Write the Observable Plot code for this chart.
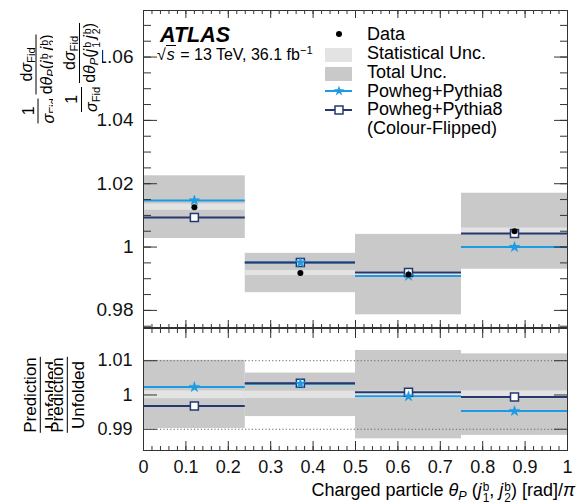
<!DOCTYPE html>
<html><head><meta charset="utf-8">
<script src="https://cdn.jsdelivr.net/npm/d3@7"></script>
<script src="https://cdn.jsdelivr.net/npm/@observablehq/plot@0.6"></script>
<style>
body{margin:0;background:#fff;font-family:"Liberation Sans",Arial,sans-serif;color:#000;}
#chart{position:relative;width:585px;height:504px;overflow:hidden;background:#fff;}
#top,#bottom{position:absolute;left:0;}
#top{top:0px}
#bottom{top:327px}
.abs{position:absolute;white-space:nowrap;line-height:1;}
.ylab{position:absolute;white-space:nowrap;line-height:1;font-size:15px;transform-origin:center center;}
.frac{display:inline-flex;flex-direction:column;align-items:center;vertical-align:middle;margin:0 2px;}
.frac .bar{align-self:stretch;border-top:1px solid #000;margin:1px 0 2px 0;}
.sub{font-size:0.7em;vertical-align:-0.3em;line-height:0;}
.sup{font-size:0.7em;vertical-align:0.55em;line-height:0;}
.ss{display:inline-flex;flex-direction:column;font-size:0.66em;line-height:0.92;vertical-align:0.42em;margin-left:1px;}
i{font-style:italic;}
</style>
</head><body>
<div id="chart">
  <div id="top"></div>
  <div id="bottom"></div>
</div>
<script>
// ---------- data ----------
const binLo      = [0.00, 0.24, 0.50, 0.75];
const binHi      = [0.24, 0.50, 0.75, 1.00];
const binCenter  = [0.12, 0.37, 0.625, 0.875];
// upper panel: normalised cross-section
const dataVal    = [1.0126, 0.9918, 0.9913, 1.0050];
const statErr    = [0.0010, 0.0008, 0.0009, 0.0010];
const totErr     = [0.0099, 0.0062, 0.0127, 0.0120];
const powheg     = [1.0147, 0.9951, 0.9909, 1.0000];
const powhegCF   = [1.0093, 0.9951, 0.9920, 1.0043];
// lower panel: prediction / unfolded
const ratioStatLo   = [0.9989, 0.9990, 0.9990, 0.9989];
const ratioStatHi   = [1.0012, 1.0011, 1.0011, 1.0012];
const ratioTotLo    = [0.9902, 0.9937, 0.9872, 0.9882];
const ratioTotHi    = [1.0101, 1.0064, 1.0130, 1.0120];
const ratioPowheg   = [1.0023, 1.0033, 0.9996, 0.9953];
const ratioPowhegCF = [0.9968, 1.0034, 1.0008, 0.9994];
// ticks
const yTicksTop    = [0.98, 1.00, 1.02, 1.04, 1.06];
const yTicksBottom = [0.99, 1.00, 1.01];
const xTicks       = [0, 0.1, 0.2, 0.3, 0.4, 0.5, 0.6, 0.7, 0.8, 0.9, 1];
const legendLabels = ["Data", "Statistical Unc.", "Total Unc.", "Powheg+Pythia8", "Powheg+Pythia8", "(Colour-Flipped)"];

// ---------- styling ----------
const navy = "#26386e", azure = "#1b9be3", totGrey = "#c9c9c9", statGrey = "#e3e3e3", axisCol = "#333";
const FONT = "Liberation Sans, Arial, sans-serif";

const rows = binLo.map((lo, i) => ({
  lo, hi: binHi[i], c: binCenter[i],
  data: dataVal[i], stat: statErr[i], tot: totErr[i],
  pw: powheg[i], cf: powhegCF[i],
  rsl: ratioStatLo[i], rsh: ratioStatHi[i], rtl: ratioTotLo[i], rth: ratioTotHi[i],
  rpw: ratioPowheg[i], rcf: ratioPowhegCF[i]
}));

const xMinor = d3.range(0, 51).map(i => i * 0.02);
const yMinorTop = d3.range(195, 215).map(i => i * 0.005);
const fmtY = d => d === 1 ? "1" : d.toFixed(2);
const fmtX = d => (d === 0 ? "0" : d === 1 ? "1" : d.toFixed(1));

function frameTicksX(majorLen, minorLen) {
  return [
    Plot.axisX(xTicks, {anchor: "top", frameAnchor: "bottom", tickSize: majorLen, fill: "none", stroke: axisCol, label: null}),
    Plot.axisX(xMinor, {anchor: "top", frameAnchor: "bottom", tickSize: minorLen, fill: "none", stroke: axisCol, label: null}),
    Plot.axisX(xTicks, {anchor: "bottom", frameAnchor: "top", tickSize: majorLen, fill: "none", stroke: axisCol, label: null}),
    Plot.axisX(xMinor, {anchor: "bottom", frameAnchor: "top", tickSize: minorLen, fill: "none", stroke: axisCol, label: null})
  ];
}
function frameTicksY(values, len) {
  return [
    Plot.axisY(values, {anchor: "right", frameAnchor: "left", tickSize: len, fill: "none", stroke: axisCol, label: null}),
    Plot.axisY(values, {anchor: "left", frameAnchor: "right", tickSize: len, fill: "none", stroke: axisCol, label: null})
  ];
}

const topPlot = Plot.plot({
  width: 585, height: 328,
  marginLeft: 143, marginRight: 18, marginTop: 10, marginBottom: 1,
  style: {fontFamily: FONT, background: "transparent", overflow: "visible"},
  x: {domain: [0, 1]},
  y: {domain: [0.9746, 1.0747]},
  marks: [
    Plot.rect(rows, {x1: "lo", x2: "hi", y1: d => d.data - d.tot, y2: d => d.data + d.tot, fill: totGrey}),
    Plot.rect(rows, {x1: "lo", x2: "hi", y1: d => d.data - d.stat, y2: d => d.data + d.stat, fill: statGrey}),
    Plot.ruleY(rows, {y: "pw", x1: "lo", x2: "hi", stroke: azure, strokeWidth: 2}),
    Plot.ruleY(rows, {y: "cf", x1: "lo", x2: "hi", stroke: navy, strokeWidth: 2}),
    Plot.dot(rows, {x: "c", y: "cf", symbol: "square", r: 4.5, fill: "white", stroke: navy, strokeWidth: 1.5}),
    Plot.dot(rows, {x: "c", y: "pw", symbol: "star", r: 3.3, fill: azure, stroke: azure, strokeWidth: 0.5}),
    Plot.dot(rows, {x: "c", y: "data", r: 3, fill: "black", stroke: "none"}),
    ...frameTicksX(8, 4),
    ...frameTicksY(yTicksTop, 13),
    ...frameTicksY(yMinorTop, 7),
    Plot.axisY(yTicksTop, {anchor: "left", tickSize: 0, tickPadding: 10, tickFormat: fmtY, fontSize: 19, fill: "#111", label: null}),
    Plot.frame({stroke: axisCol, strokeWidth: 1})
  ]
});
document.getElementById("top").append(topPlot);

const bottomPlot = Plot.plot({
  width: 585, height: 177,
  marginLeft: 143, marginRight: 18, marginTop: 1, marginBottom: 54,
  style: {fontFamily: FONT, background: "transparent", overflow: "visible"},
  x: {domain: [0, 1]},
  y: {domain: [0.9838, 1.0194]},
  marks: [
    Plot.rect(rows, {x1: "lo", x2: "hi", y1: "rtl", y2: "rth", fill: totGrey}),
    Plot.rect(rows, {x1: "lo", x2: "hi", y1: "rsl", y2: "rsh", fill: statGrey}),
    Plot.ruleY([yTicksBottom[0], yTicksBottom[2]], {stroke: "#666", strokeDasharray: "1.2,2.2", strokeWidth: 1}),
    Plot.ruleY(rows, {y: "rpw", x1: "lo", x2: "hi", stroke: azure, strokeWidth: 2}),
    Plot.ruleY(rows, {y: "rcf", x1: "lo", x2: "hi", stroke: navy, strokeWidth: 2}),
    Plot.dot(rows, {x: "c", y: "rcf", symbol: "square", r: 4.5, fill: "white", stroke: navy, strokeWidth: 1.5}),
    Plot.dot(rows, {x: "c", y: "rpw", symbol: "star", r: 3.3, fill: azure, stroke: azure, strokeWidth: 0.5}),
    ...frameTicksX(10, 5),
    ...frameTicksY(yTicksBottom, 13),
    Plot.axisY(yTicksBottom, {anchor: "left", tickSize: 0, tickPadding: 11, tickFormat: fmtY, fontSize: 18, fill: "#111", label: null}),
    Plot.axisX(xTicks, {anchor: "bottom", tickSize: 0, tickPadding: 10, tickFormat: fmtX, fontSize: 18, fill: "#111", label: null}),
    Plot.frame({stroke: axisCol, strokeWidth: 1})
  ]
});
document.getElementById("bottom").append(bottomPlot);

// ---------- text & legend overlays ----------
const chart = document.getElementById("chart");
function addText(html, x, baseline, fs, extra = {}) {
  const d = document.createElement("div");
  d.className = "abs";
  d.innerHTML = html;
  d.style.fontSize = fs + "px";
  d.style.top = (baseline - 0.8465 * fs) + "px";
  if (extra.right !== undefined) d.style.right = extra.right + "px"; else d.style.left = x + "px";
  if (extra.style) Object.assign(d.style, extra.style);
  chart.append(d);
  return d;
}
// ATLAS label
addText("ATLAS", 160, 43, 21.5, {style: {fontWeight: "bold", fontStyle: "italic"}});
addText('√<span style="border-top:1px solid #000;font-style:italic;padding:0 1px">s</span> = 13 TeV, 36.1 fb<span class="sup">−1</span>', 157, 60.5, 16);

// legend symbols (drawn in an overlay svg)
const lg = d3.select(chart).append("svg")
  .attr("width", 585).attr("height", 150)
  .style("position", "absolute").style("left", "0px").style("top", "0px").style("pointer-events", "none");
lg.append("circle").attr("cx", 339).attr("cy", 34).attr("r", 3).attr("fill", "black");
lg.append("rect").attr("x", 325).attr("y", 48).attr("width", 27).attr("height", 14).attr("fill", statGrey);
lg.append("rect").attr("x", 325).attr("y", 67).attr("width", 27).attr("height", 14).attr("fill", totGrey);
lg.append("line").attr("x1", 325).attr("x2", 352).attr("y1", 91).attr("y2", 91).attr("stroke", azure).attr("stroke-width", 2);
lg.append("path").attr("d", d3.symbol(d3.symbolStar, Math.PI * 3.3 * 3.3)()).attr("transform", "translate(339,91)").attr("fill", azure);
lg.append("line").attr("x1", 325).attr("x2", 352).attr("y1", 110).attr("y2", 110).attr("stroke", navy).attr("stroke-width", 2);
lg.append("path").attr("d", d3.symbol(d3.symbolSquare, Math.PI * 4.5 * 4.5)()).attr("transform", "translate(339,110)").attr("fill", "white").attr("stroke", navy).attr("stroke-width", 1.5);

const legendBaselines = [40, 59, 78, 97, 115.5, 134];
legendLabels.forEach((t, i) => addText(t, 367, legendBaselines[i], 18));

// x axis title
addText('Charged particle <i>θ</i><span class="sub"><i>P</i></span> (<i>j</i><span class="ss"><span>b</span><span>1</span></span>, <i>j</i><span class="ss"><span>b</span><span>2</span></span>) [rad]/<i>π</i>', 0, 496, 18, {right: 10});

// y axis titles (rotated, drawn twice as in the reference)
function yLabel(html, cx, cy, fs, cover) {
  const d = document.createElement("div");
  d.className = "ylab";
  d.innerHTML = html;
  d.style.fontSize = fs + "px";
  if (cover !== null) {
    d.style.paddingTop = cover.pad + "px";
    d.style.background = `linear-gradient(to bottom, rgba(255,255,255,0) ${cover.clear}px, #fff ${cover.clear}px)`;
  }
  chart.append(d);
  const w = d.offsetWidth, h = d.offsetHeight;
  d.style.left = (cx - w / 2) + "px";
  d.style.top = (cy - h / 2) + "px";
  d.style.transform = "rotate(-90deg)";
  return d;
}
const topLab = '<span class="frac"><span>1</span><span class="bar"></span><span><i>σ</i><span class="sub">Fid</span></span></span>' +
  '<span class="frac"><span>d<i>σ</i><span class="sub">Fid</span></span><span class="bar"></span>' +
  '<span>d<i>θ</i><span class="sub"><i>P</i></span>(<i>j</i><span class="ss"><span>b</span><span>1</span></span>&thinsp;<i>j</i><span class="ss"><span>b</span><span>2</span></span>)</span></span>';
yLabel(topLab, 38, 79, 16, null);
yLabel(topLab, 77, 67, 16, {pad: 9, clear: 0});

const botLab = '<span class="frac"><span>Prediction</span><span class="bar"></span><span>Unfolded</span></span>';
yLabel(botLab, 41, 395, 17, null);
yLabel(botLab, 68, 395, 17, {pad: 0, clear: 4});
</script>
</body></html>
